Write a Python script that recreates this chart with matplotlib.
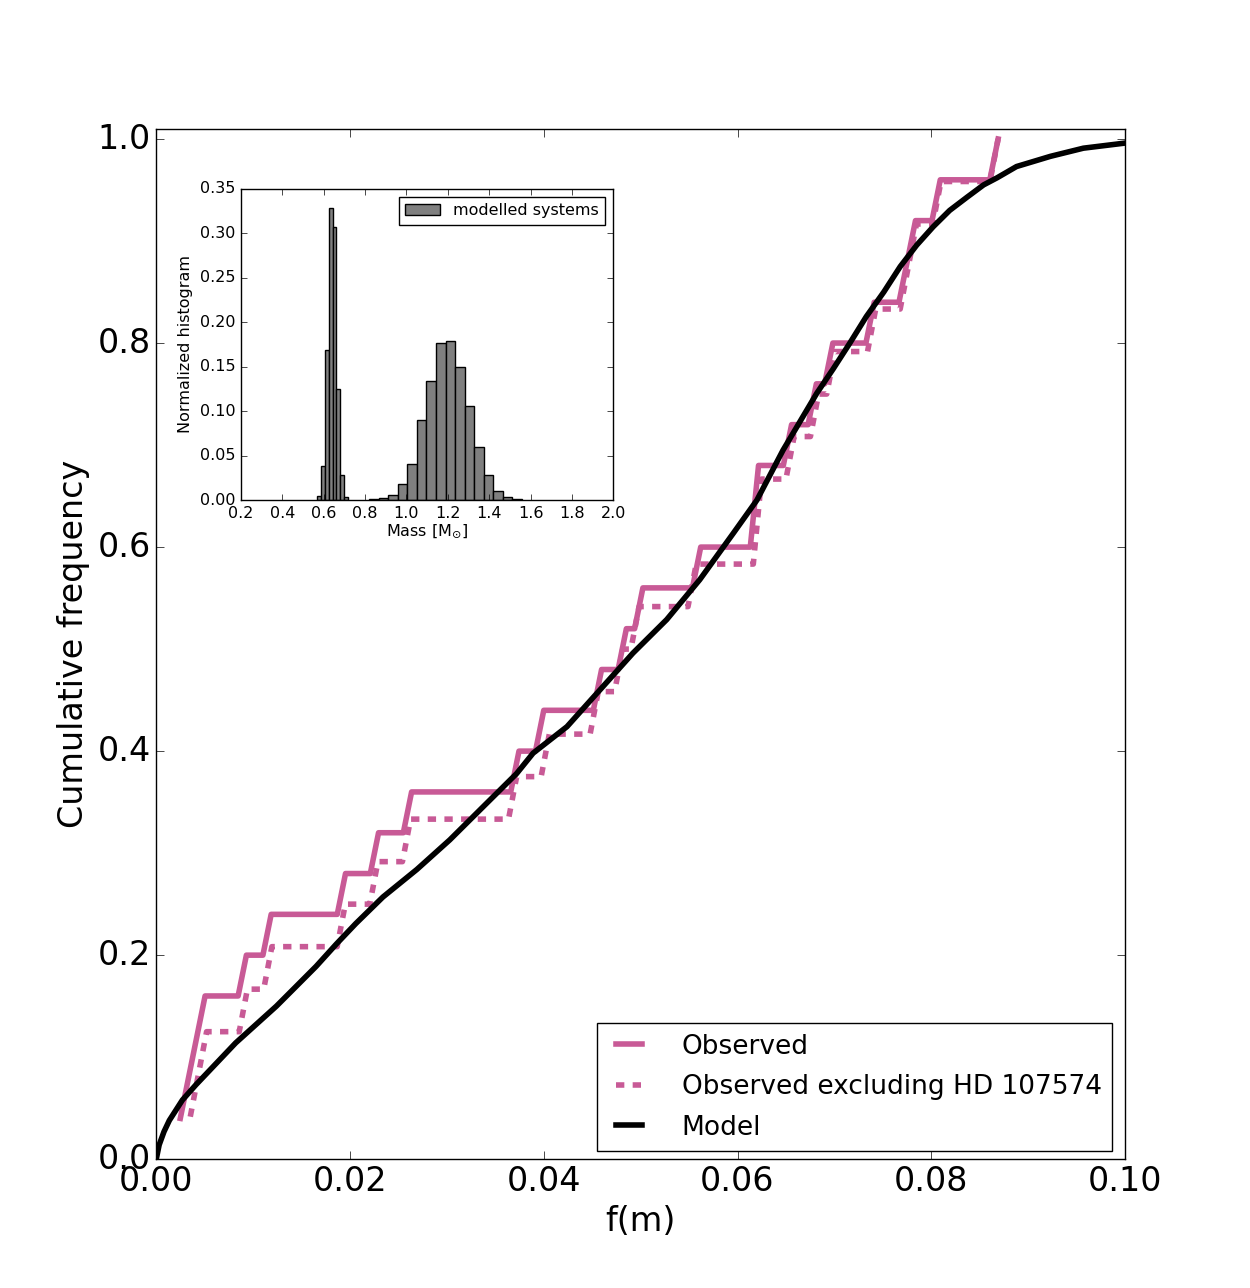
import numpy as np
import matplotlib
matplotlib.use("Agg")
import matplotlib.pyplot as plt

plt.style.use("classic")
plt.rcParams["mathtext.fontset"] = "dejavusans"

# observed mass functions f(m), sorted; index 0 is HD 107574
fm_obs = [0.00163, 0.00267, 0.0038, 0.0046, 0.0090, 0.0117, 0.0187, 0.0223,
          0.0258, 0.0372, 0.0399, 0.0452, 0.0477, 0.0495, 0.0557, 0.0619,
          0.0619, 0.0653, 0.0679, 0.0698, 0.0741, 0.0769, 0.0777, 0.0804,
          0.0869]
excluded = 0

# model cumulative distribution
model_fm = [0.0, 0.0003, 0.0008, 0.00135, 0.0027, 0.0041, 0.0062, 0.0082,
            0.0103, 0.0124, 0.0144, 0.0165, 0.0186, 0.0206, 0.0234, 0.0269,
            0.0303, 0.0338, 0.0372, 0.0389, 0.0424, 0.0458, 0.0492, 0.0527,
            0.0561, 0.0596, 0.0620, 0.0647, 0.0682, 0.0699, 0.0716, 0.0733,
            0.0751, 0.0768, 0.0785, 0.0802, 0.0819, 0.0837, 0.0854, 0.0868,
            0.0888, 0.0923, 0.0957, 0.1000]
model_cum = [0.0, 0.014, 0.027, 0.038, 0.058, 0.073, 0.094, 0.114,
             0.132, 0.150, 0.169, 0.189, 0.211, 0.231, 0.257, 0.284,
             0.313, 0.346, 0.378, 0.398, 0.424, 0.460, 0.496, 0.529,
             0.568, 0.614, 0.646, 0.695, 0.751, 0.775, 0.800, 0.826,
             0.850, 0.875, 0.896, 0.914, 0.930, 0.943, 0.955, 0.962,
             0.973, 0.983, 0.991, 0.996]

# inset: normalised mass histogram of the modelled systems
low_bins = np.linspace(0.569, 0.716, 9)
low_frac = [0.004, 0.038, 0.169, 0.329, 0.307, 0.125, 0.028, 0.003]
high_bins = np.linspace(0.820, 1.558, 17)
high_frac = [0.001, 0.002, 0.0056, 0.018, 0.0405, 0.0896, 0.134, 0.1766,
             0.1785, 0.150, 0.1058, 0.0593, 0.028, 0.0105, 0.0034, 0.001]

pink = "#c85a96"


def cum_curve(vals):
    vals = np.sort(vals)
    counts, edges = np.histogram(vals, bins=100)
    return edges[1:], np.cumsum(counts) / float(len(vals))


fig = plt.figure(figsize=(12.5, 12.88), dpi=100)
ax = fig.add_axes([0.125, 0.1, 0.775, 0.8])

x1, y1 = cum_curve(fm_obs)
x2, y2 = cum_curve(np.delete(fm_obs, excluded))
ax.plot(x1, y1, color=pink, lw=4, label="Observed")
ax.plot(x2, y2, color=pink, lw=4, ls="--", dashes=(6, 6),
        label="Observed excluding HD 107574")
ax.plot(model_fm, model_cum, color="k", lw=4, label="Model")

ax.set_xlim(0, 0.1)
ax.set_ylim(0, 1.01)
ax.set_xticks(np.arange(0, 0.101, 0.02))
ax.set_yticks(np.arange(0, 1.01, 0.2))
ax.tick_params(labelsize=24, length=6)
ax.set_xlabel("f(m)", fontsize=24)
ax.set_ylabel("Cumulative frequency", fontsize=24)
ax.legend(loc="lower right", bbox_to_anchor=(0.995, 0.0), fontsize=19,
          handlelength=1.6, handletextpad=1.2, borderaxespad=0.3,
          labelspacing=0.55)

# inset
ins = fig.add_axes([0.1928, 0.6118, 0.2978, 0.2415])
ins.bar(low_bins[:-1], low_frac, width=np.diff(low_bins), align="edge",
        color="0.5", edgecolor="k", label="modelled systems")
ins.bar(high_bins[:-1], high_frac, width=np.diff(high_bins), align="edge",
        color="0.5", edgecolor="k")
ins.set_xlim(0.2, 2.0)
ins.set_ylim(0, 0.35)
ins.set_xticks(np.arange(0.2, 2.01, 0.2))
ins.set_yticks(np.arange(0, 0.351, 0.05))
ins.tick_params(labelsize=11.5)
ins.set_xlabel(r"Mass [M$_{\odot}$]", fontsize=11.5, labelpad=1)
ins.set_ylabel("Normalized histogram", fontsize=11.5)
ins.legend(loc="upper right", fontsize=11.5, handlelength=2.2)

fig.savefig("out.png", dpi=100, facecolor="white")
